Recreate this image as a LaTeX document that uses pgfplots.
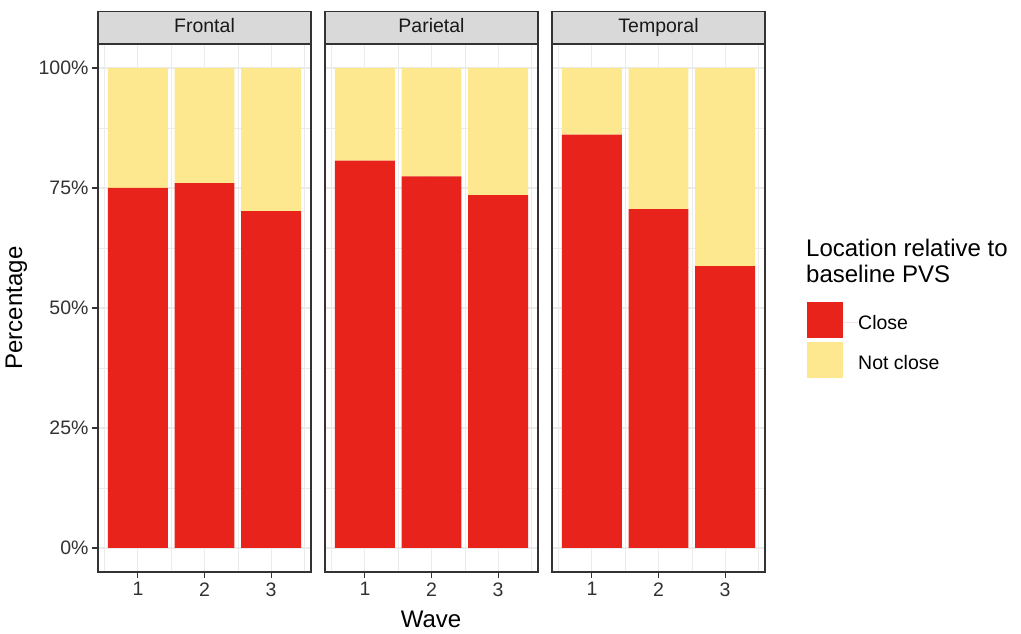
\documentclass[border=0pt]{standalone}
\usepackage{pgfplots}
\pgfplotsset{compat=1.18}
\usepackage{fontspec}
\setmainfont{Liberation Sans}
\definecolor{cred}{RGB}{232,35,28}
\definecolor{cyel}{RGB}{253,231,143}
\definecolor{stripgray}{RGB}{217,217,217}
\definecolor{frame}{RGB}{51,51,51}
\definecolor{gridc}{RGB}{235,235,235}
\definecolor{ticktext}{RGB}{50,50,50}
\pgfplotsset{
  panel/.style={
    scale only axis, width=213pt, height=528pt,
    anchor=south west,
    ybar stacked, bar width=0.9,
    xmin=0.4, xmax=3.6, ymin=-5, ymax=105,
    xtick={1,2,3}, minor xtick={0.5,1.5,2.5,3.5},
    ytick={0,25,50,75,100}, minor ytick={12.5,37.5,62.5,87.5},
    yticklabels={0\%,25\%,50\%,75\%,100\%},
    grid=both,
    major grid style={gridc, line width=1.1pt},
    minor grid style={gridc, line width=0.55pt},
    axis line style={frame, line width=1.1pt},
    tick style={frame, line width=1.1pt},
    tick align=outside, major tick length=6pt, minor tick length=0pt,
    xtick pos=bottom, ytick pos=left,
    /pgf/number format/assume math mode=true,
    tick label style={font=\fontsize{19.5}{22}\selectfont, text=ticktext},
    xticklabel style={yshift=-1pt},
    title style={at={(0.5,1)}, anchor=south, yshift=-6pt, draw=frame, fill=stripgray,
      minimum width=213pt, minimum height=32pt, inner sep=0pt, line width=1.1pt,
      text height=14pt, text depth=4pt,
      font=\fontsize{19.5}{22}\selectfont, text=black!90},
    clip=false,
  }
}
\begin{document}
\begin{tikzpicture}
\useasboundingbox (0,0) rectangle (1021pt,634pt);
\begin{axis}[panel, at={(98pt,62pt)}, title={Frontal}]
\addplot[fill=cred, draw=none] coordinates {(1,75.0) (2,76.0) (3,70.2)};
\addplot[fill=cyel, draw=none] coordinates {(1,25.0) (2,24.0) (3,29.8)};
\end{axis}
\begin{axis}[panel, at={(325pt,62pt)}, title={Parietal}, yticklabels={}, ytick style={draw=none}]
\addplot[fill=cred, draw=none] coordinates {(1,80.7) (2,77.4) (3,73.5)};
\addplot[fill=cyel, draw=none] coordinates {(1,19.3) (2,22.6) (3,26.5)};
\end{axis}
\begin{axis}[panel, at={(552pt,62pt)}, title={Temporal}, yticklabels={}, ytick style={draw=none},
  legend style={at={(1,0.4394)}, anchor=west, xshift=42pt, draw=none, fill=none,
    inner sep=0pt, row sep=4pt, column sep=0pt,
    nodes={inner sep=0pt}, font=\fontsize{19.5}{22}\selectfont},
  legend cell align=left,
  legend image code/.code={\fill[#1] (0pt,-15pt) rectangle (36pt,21pt); \path (0pt,0pt) -- (51pt,0pt);},
  ]
\addplot[fill=cred, draw=none] coordinates {(1,86.1) (2,70.6) (3,58.7)};
\addlegendentry{Close}
\addplot[fill=cyel, draw=none] coordinates {(1,13.9) (2,29.4) (3,41.3)};
\addlegendentry{Not close}
\end{axis}
\node[rotate=90, anchor=base, font=\fontsize{24}{26}\selectfont] at (22pt,326pt) {Percentage};
\node[anchor=base, font=\fontsize{24}{26}\selectfont] at (431pt,6pt) {Wave};
\node[anchor=base west, align=left, inner sep=0pt, font=\fontsize{24}{26}\selectfont] at (806pt,351pt) {Location relative to\\baseline PVS};
\end{tikzpicture}
\end{document}
